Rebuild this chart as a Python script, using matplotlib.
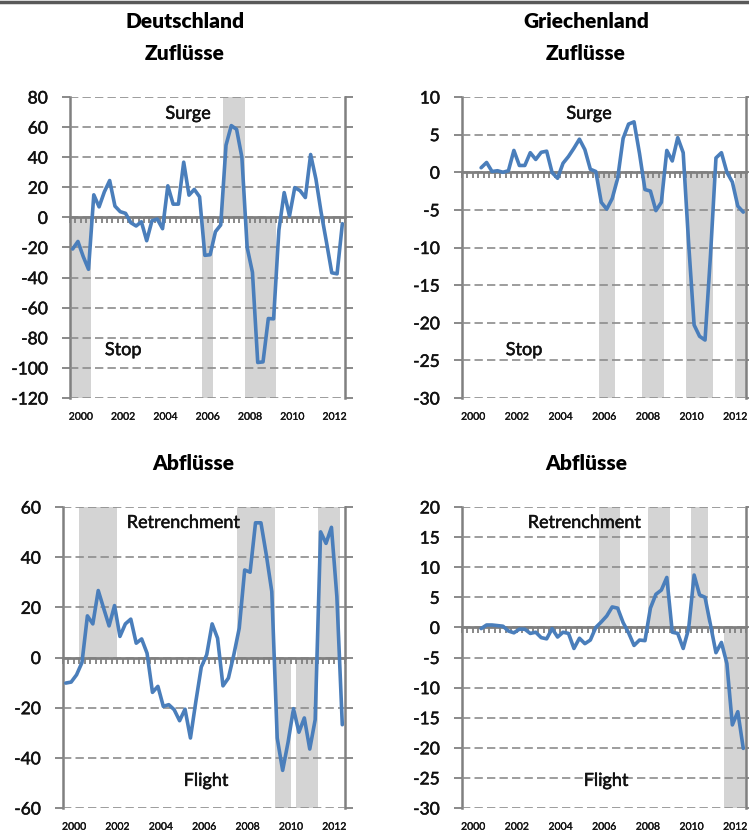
import matplotlib
matplotlib.use("Agg")
import matplotlib.pyplot as plt
import matplotlib.patheffects as pe
from matplotlib.lines import Line2D

plt.rcParams["font.family"] = ["Lato", "DejaVu Sans"]
plt.rcParams["axes.unicode_minus"] = False

# Quarterly categories 2000Q1 .. 2012Q4
YEARS = list(range(2000, 2013))
QUARTERS = [f"{y}Q{q}" for y in YEARS for q in (1, 2, 3, 4)]
YEAR_LABELS = ["2000", "2002", "2004", "2006", "2008", "2010", "2012"]

# Germany, gross inflows (2000Q1 .. 2012Q4)
DE_IN_START = "2000Q1"
DE_IN = [-21, -16, -26, -34.5, 15, 7, 17, 24.5, 7.5, 3.8, 2.7, -3.5, -5.7, -2.9,
         -15.5, -2.2, -1.1, -7.5, 21, 8.8, 8.8, 36.7, 14.8, 18.6, 13.7, -25.2,
         -24.8, -9.5, -5, 48, 61, 58.5, 40, -20, -36.5, -96.4, -96, -67.2,
         -67.4, -8.4, 16.5, 0.9, 19.8, 17.8, 13.2, 41.8, 25.5, 3, -16.5, -36.8,
         -37.5, -4.2]
DE_IN_SURGE = [("2007Q2", "2008Q1")]
DE_IN_STOP = [("2000Q1", "2000Q4"), ("2006Q2", "2006Q3"), ("2008Q2", "2009Q3")]

# Greece, gross inflows (2000Q4 .. 2012Q4)
GR_IN_START = "2000Q4"
GR_IN = [0.6, 1.3, 0.1, 0.2, 0, 0.2, 2.9, 0.9, 0.9, 2.6, 1.7, 2.65, 2.8, -0.05,
         -0.8, 1.2, 2.1, 3.2, 4.4, 3, 0.4, 0.1, -4, -4.9, -3.5, -0.8, 4.5, 6.4,
         6.7, 2.5, -2.3, -2.5, -5.1, -4, 2.9, 1.5, 4.6, 2.6, -9.5, -20.3,
         -21.8, -22.3, -11, 1.9, 2.6, 0, -1.3, -4.5, -5.3]
GR_IN_SURGE = []
GR_IN_STOP = [("2006Q2", "2006Q4"), ("2008Q2", "2009Q1"), ("2010Q2", "2011Q2"),
              ("2012Q3", "2012Q4")]

# Germany, gross outflows (2000Q1 .. 2012Q4)
DE_OUT_START = "2000Q1"
DE_OUT = [-10.2, -9.8, -6.9, -2, 16.6, 13.4, 26.7, 19.6, 12.6, 20.7, 8.4, 13.4,
          15.3, 5.7, 7.4, 1.7, -13.9, -11.5, -19.5, -18.8, -20.8, -25.2, -20.6,
          -32.1, -17.5, -3.8, 1.1, 13.4, 7.7, -11.3, -8.2, 1.1, 11.7, 34.9, 34,
          53.7, 53.7, 40.8, 26.3, -32.1, -45, -33.8, -20.4, -29.8, -24.1,
          -36.5, -24.8, 50.1, 45.5, 51.9, 24.3, -26.8]
DE_OUT_RETRENCH = [("2000Q4", "2002Q2"), ("2008Q1", "2009Q3"), ("2011Q4", "2012Q3")]
DE_OUT_FLIGHT = [("2009Q4", "2010Q2"), ("2010Q4", "2011Q3")]

# Greece, gross outflows (2000Q4 .. 2012Q4)
GR_OUT_START = "2000Q4"
GR_OUT = [-0.2, 0.4, 0.4, 0.3, 0.2, -0.6, -0.9, -0.3, -0.3, -1, -0.8, -1.7,
          -1.9, -0.2, -1.6, -0.8, -1, -3.5, -1.8, -2.7, -2.1, 0, 0.9, 1.9, 3.4,
          3.2, 0.8, -0.9, -3, -2.1, -2.2, 3.2, 5.5, 6.2, 8.3, -0.8, -1, -3.5,
          -0.2, 8.7, 5.4, 5, 0.4, -4.2, -2.5, -6, -16.2, -14, -20.1]
GR_OUT_RETRENCH = [("2006Q2", "2007Q1"), ("2008Q3", "2009Q2"), ("2010Q3", "2011Q1")]
GR_OUT_FLIGHT = [("2012Q1", "2012Q4")]

LINE_COLOR = "#4a7ebb"
SHADE_COLOR = "#d4d4d4"
AXIS_COLOR = "#808080"
GRID_COLOR = "#8c8c8c"
TEXT_COLOR = "#111111"

# slight stroke gives the regular face a medium weight
MEDIUM = [pe.withStroke(linewidth=0.35, foreground=TEXT_COLOR)]

W, H = 749, 836
fig = plt.figure(figsize=(W / 100, H / 100), dpi=100)


def px_axes(x0, x1, y0, y1):
    return fig.add_axes([x0 / W, 1 - y1 / H, (x1 - x0) / W, (y1 - y0) / H])


def idx(q):
    return QUARTERS.index(q)


def draw_panel(ax, start, values, up_eps, down_eps, ylim, ystep,
               up_label, down_label, up_pos, down_pos):
    ymin, ymax = ylim
    # shaded episodes as full-width columns from zero to the axis limit
    for eps, top in ((up_eps, ymax), (down_eps, ymin)):
        for a, b in eps:
            ks = list(range(idx(a), idx(b) + 1))
            ax.bar(ks, [top] * len(ks), width=1.0, bottom=0,
                   color=SHADE_COLOR, linewidth=0, zorder=1)
    s = idx(start)
    xs = list(range(s, s + len(values)))
    ax.plot(xs, values, color=LINE_COLOR, lw=2.6, zorder=3,
            solid_joinstyle="round", solid_capstyle="round")

    ax.set_xlim(-0.5, len(QUARTERS) - 0.5)
    ax.set_ylim(ymin, ymax)
    ticks = list(range(ymin, ymax + 1, ystep))
    ax.set_yticks(ticks)
    ax.set_yticklabels([str(t) for t in ticks])
    for lab in ax.get_yticklabels():
        lab.set_path_effects(MEDIUM)
        lab.set_color(TEXT_COLOR)
    ax.set_axisbelow(False)
    ax.yaxis.grid(True, color=GRID_COLOR, lw=1.2, linestyle=(0, (5, 2.5)))
    ax.tick_params(axis="y", left=True, right=True, direction="out", length=6,
                   width=1.3, color=AXIS_COLOR, labelsize=12.5, pad=10)

    # category axis sitting on zero with short tick marks between quarters
    ax.spines["bottom"].set_position(("data", 0))
    ax.spines["bottom"].set_color(AXIS_COLOR)
    ax.spines["bottom"].set_linewidth(2)
    ax.spines["bottom"].set_zorder(2.6)
    ax.set_xticks([k - 0.5 for k in range(len(QUARTERS) + 1)])
    ax.tick_params(axis="x", direction="out", length=4, width=1.3,
                   color=AXIS_COLOR, labelbottom=False)
    for side in ("left", "right"):
        ax.spines[side].set_color(AXIS_COLOR)
        ax.spines[side].set_linewidth(1.8)
    ax.spines["top"].set_visible(False)

    # year labels centred under each labelled year
    for lab in YEAR_LABELS:
        xc = idx(lab + "Q1") + 1.5
        ax.text(xc, -0.064, lab, transform=ax.get_xaxis_transform(),
                ha="center", va="center", fontsize=7.5, color=TEXT_COLOR,
                path_effects=[pe.withStroke(linewidth=0.2, foreground=TEXT_COLOR)])

    for pos, label in ((up_pos, up_label), (down_pos, down_label)):
        ax.text(pos[0], pos[1], label, transform=ax.transAxes,
                ha="center", va="center", fontsize=13, color=TEXT_COLOR,
                path_effects=MEDIUM)


ax1 = px_axes(70, 345, 97, 398)
draw_panel(ax1, DE_IN_START, DE_IN, DE_IN_SURGE, DE_IN_STOP, (-120, 80), 20,
           "Surge", "Stop", (0.429, 0.944), (0.193, 0.159))

ax2 = px_axes(462, 746, 97, 398)
draw_panel(ax2, GR_IN_START, GR_IN, GR_IN_SURGE, GR_IN_STOP, (-30, 10), 5,
           "Surge", "Stop", (0.447, 0.944), (0.218, 0.159))

ax3 = px_axes(63, 345, 507, 808)
draw_panel(ax3, DE_OUT_START, DE_OUT, DE_OUT_RETRENCH, DE_OUT_FLIGHT,
           (-60, 60), 20, "Retrenchment", "Flight", (0.426, 0.947), (0.507, 0.09))

ax4 = px_axes(462, 746, 507, 808)
draw_panel(ax4, GR_OUT_START, GR_OUT, GR_OUT_RETRENCH, GR_OUT_FLIGHT,
           (-30, 20), 5, "Retrenchment", "Flight", (0.43, 0.947), (0.507, 0.09))

# panel headings
title_kw = dict(ha="center", va="center", fontsize=15, fontweight="heavy",
                color="#000000")
fig.text(185 / W, 1 - 21 / H, "Deutschland", **title_kw)
fig.text(185 / W, 1 - 53 / H, "Zuflüsse", **title_kw)
fig.text(586 / W, 1 - 21 / H, "Griechenland", **title_kw)
fig.text(586 / W, 1 - 53 / H, "Zuflüsse", **title_kw)
fig.text(193 / W, 1 - 463 / H, "Abflüsse", **title_kw)
fig.text(586 / W, 1 - 463 / H, "Abflüsse", **title_kw)

# rule across the top edge
fig.add_artist(Line2D([0, 1], [1 - 2 / H, 1 - 2 / H], transform=fig.transFigure,
                      color="#595959", lw=2.5))

fig.savefig("out.png", dpi=100)
